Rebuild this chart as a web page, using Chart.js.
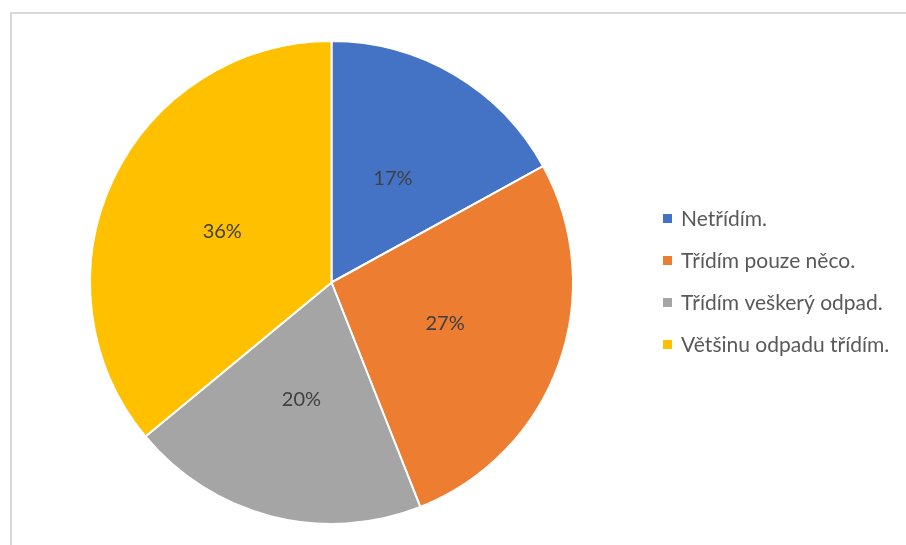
<!DOCTYPE html>
<html>
<head>
<meta charset="utf-8">
<script src="https://cdn.jsdelivr.net/npm/chart.js@4"></script>
<style>
    html, body { margin: 0; padding: 0; background: #fff; overflow: hidden; }
    #frame {
        position: absolute; left: 10px; top: 12px;
        width: 920px; height: 560px;
        border: 2px solid #d9d9d9;
    }
    #wrap { position: absolute; left: 0; top: 0; width: 906px; height: 545px; }
</style>
</head>
<body>
<div id="frame"></div>
<div id="wrap"><canvas id="pieChart" width="906" height="545"></canvas></div>
<script>
// Data
const categories = ['Netřídím.', 'Třídím pouze něco.', 'Třídím veškerý odpad.', 'Většinu odpadu třídím.'];
const shares = [17, 27, 20, 36];
const sliceColors = ['#4472C4', '#ED7D31', '#A5A5A5', '#FFC000'];

const fontFamily = 'Lato, "Open Sans", sans-serif';

// Percent labels in the middle of each slice
const sliceLabels = {
    id: 'sliceLabels',
    afterDatasetsDraw(chart) {
        const ctx = chart.ctx;
        const meta = chart.getDatasetMeta(0);
        const total = shares.reduce((a, b) => a + b, 0);
        ctx.save();
        ctx.font = '20px ' + fontFamily;
        ctx.fillStyle = '#404040';
        ctx.textAlign = 'center';
        ctx.textBaseline = 'middle';
        meta.data.forEach((arc, i) => {
            const p = arc.tooltipPosition();
            ctx.fillText(Math.round(shares[i] / total * 100) + '%', p.x, p.y);
        });
        ctx.restore();
    }
};

// Legend on the right, Excel style
const sideLegend = {
    id: 'sideLegend',
    afterDraw(chart) {
        const ctx = chart.ctx;
        ctx.save();
        ctx.font = '21px ' + fontFamily;
        ctx.textBaseline = 'middle';
        categories.forEach((name, i) => {
            const y = 219 + i * 42;
            ctx.fillStyle = sliceColors[i];
            ctx.fillRect(663, y - 5, 9, 9);
            ctx.fillStyle = '#595959';
            ctx.fillText(name, 681, y);
        });
        ctx.restore();
    }
};

const pieCtx = document.getElementById('pieChart').getContext('2d');
let pieChart = new Chart(pieCtx, {
    type: 'pie',
    data: {
        labels: categories,
        datasets: [{
            data: shares,
            backgroundColor: sliceColors,
            borderColor: '#ffffff',
            borderWidth: 2
        }]
    },
    options: {
        responsive: false,
        animation: false,
        layout: {
            padding: { left: 87, right: 330, top: 40, bottom: 20 }
        },
        plugins: {
            legend: { display: false },
            tooltip: { enabled: false }
        }
    },
    plugins: [sliceLabels, sideLegend]
});
</script>
</body>
</html>
